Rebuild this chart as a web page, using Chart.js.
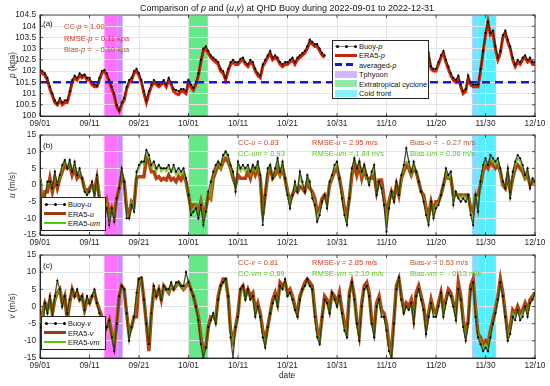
<!DOCTYPE html>
<html>
<head>
<meta charset="utf-8">
<script src="https://cdn.jsdelivr.net/npm/chart.js@4"></script>
<style>
body { margin: 0; background: #fff; width: 550px; height: 386px; position: relative; overflow: hidden;
       font-family: "Liberation Sans", Arial, sans-serif; }
canvas { position: absolute; left: 0; }
.t { position: absolute; white-space: pre; font-size: 7.5px; transform: translateY(-50%); z-index: 5; }
.ylab { position: absolute; white-space: nowrap; font-size: 8.3px; color: #262626;
        transform: translate(-50%, -50%) rotate(-90deg); z-index: 5; }
.leg { position: absolute; background: #fff; border: 0.8px solid #262626; z-index: 6; }
.leg div { position: absolute; }
.red { color: #e2341e; } .cc { color: #c8461e; } .bias { color: #b4552d; } .grn { color: #5ac81e; }
</style>
</head>
<body>
<canvas id="pa" width="550" height="132" style="top:0px"></canvas>
<canvas id="pb" width="550" height="131" style="top:120px"></canvas>
<canvas id="pc" width="550" height="134" style="top:240px"></canvas>

<div class="t" style="left:287px;top:8px;transform:translate(-50%,-50%);font-size:9px;color:#111">Comparison of <i>p</i> and (<i>u</i>,<i>v</i>) at QHD Buoy during 2022-09-01 to 2022-12-31</div>

<div class="ylab" style="left:12px;top:65px"><i>p</i> (kpa)</div>
<div class="ylab" style="left:12px;top:185px"><i>u</i> (m/s)</div>
<div class="ylab" style="left:12px;top:306px"><i>v</i> (m/s)</div>
<div class="t" style="left:287px;top:375px;transform:translate(-50%,-50%);font-size:8.3px;color:#262626">date</div>

<div class="t" style="left:43px;top:23px;font-size:8px;color:#111">(a)</div>
<div class="t cc" style="left:64px;top:26px">CC-<i>p</i> = 1.00</div>
<div class="t red" style="left:64px;top:37.5px">RMSE-<i>p</i> = 0.11 kpa</div>
<div class="t bias" style="left:64px;top:49px">Bias-<i>p</i> =  - 0.10 kpa</div>

<div class="t" style="left:43px;top:145px;font-size:8px;color:#111">(b)</div>
<div class="t cc" style="left:238px;top:141.5px">CC-<i>u</i> = 0.83</div>
<div class="t grn" style="left:238px;top:152.5px">CC-<i>um</i> = 0.93</div>
<div class="t red" style="left:312px;top:141.5px">RMSE-<i>u</i> = 2.95 m/s</div>
<div class="t grn" style="left:312px;top:152.5px">RMSE-<i>um</i> = 1.84 m/s</div>
<div class="t bias" style="left:410px;top:141.5px">Bias-<i>u</i> =  - 0.27 m/s</div>
<div class="t grn" style="left:410px;top:152.5px">Bias-<i>um</i> = 0.06 m/s</div>

<div class="t" style="left:43px;top:265px;font-size:8px;color:#111">(c)</div>
<div class="t cc" style="left:238px;top:261.5px">CC-<i>v</i> = 0.81</div>
<div class="t grn" style="left:238px;top:272.5px">CC-<i>vm</i> = 0.89</div>
<div class="t red" style="left:312px;top:261.5px">RMSE-<i>v</i> = 2.85 m/s</div>
<div class="t grn" style="left:312px;top:272.5px">RMSE-<i>vm</i> = 2.10 m/s</div>
<div class="t bias" style="left:410px;top:261.5px">Bias-<i>v</i> = 0.53 m/s</div>
<div class="t grn" style="left:410px;top:272.5px">Bias-<i>vm</i> =  - 0.13 m/s</div>

<div id="legA" class="leg" style="left:332px;top:40px;width:95px;height:57px"></div>
<div id="legB" class="leg" style="left:41px;top:197px;width:63px;height:32px"></div>
<div id="legC" class="leg" style="left:41px;top:316px;width:63px;height:32px"></div>

<script>
// x axis ticks (days since 2022-09-01)
const tickDays = [0, 10, 20, 30, 40, 50, 60, 70, 80, 90, 100];
const tickLabels = ["09/01", "09/11", "09/21", "10/01", "10/11", "10/21", "10/31", "11/10", "11/20", "11/30", "12/10"];

// event shading (day from, day to)
const bandStart = [13.0, 15.6, 30.0, 87.3, 88.5];
const bandEnd = [15.6, 16.7, 33.9, 88.5, 92.1];
const bandColor = ["#ff72ff", "#cc8cff", "#66e88a", "#88d8ff", "#55eeff"];

const avgP = 101.5;

// half-day samples, day 0 .. 100
const pBuoy = [
  102.1,102.0,101.9,101.7,101.3,101.0,100.7,100.55,100.8,100.6,
  100.7,100.7,101.1,101.6,101.8,101.7,101.9,101.8,101.85,101.7,
  101.7,101.5,101.4,101.35,101.7,102.0,102.05,101.9,101.6,101.3,
  101.0,100.5,100.25,100.6,100.8,101.3,101.6,101.7,102.0,102.1,
  101.9,101.6,101.1,100.7,101.1,101.4,101.6,101.5,101.4,101.5,
  101.6,101.4,101.7,101.5,101.2,101.15,101.1,101.2,101.2,101.1,
  101.6,101.4,101.25,101.5,101.9,102.5,103.0,103.1,102.9,102.7,
  102.6,102.5,102.4,102.1,102.0,101.7,102.1,102.4,102.5,102.4,
  102.4,102.55,102.6,102.4,102.3,102.5,102.4,102.1,101.9,101.8,
  102.3,102.5,102.7,102.9,102.6,102.7,102.6,102.4,102.3,102.4,
  102.4,102.5,102.6,102.4,102.6,102.7,102.8,102.9,103.1,103.4,
  103.3,103.2,103.2,103.0,102.8,102.7,
  null,null,null,null,null,null,null,null,null,null,
  null,null,null,null,null,null,null,null,null,null,
  null,null,null,null,null,null,null,null,null,null,
  null,null,null,null,null,null,null,null,null,null,
  102.5,102.8,102.2,102.1,102.1,102.4,102.7,102.9,102.5,102.2,
  101.9,101.7,101.6,101.8,101.4,101.1,101.2,101.8,101.5,101.4,
  101.4,101.4,102.1,102.9,103.7,104.2,103.7,103.8,103.1,102.6,
  102.9,103.6,103.8,103.4,103.1,102.6,102.3,102.5,102.4,102.6,
  102.7,102.5,102.6,102.4,102.4
];
const pEra5 = [
  102.0,101.9,101.8,101.6,101.2,100.9,100.6,100.5,100.7,100.5,
  100.6,100.6,101.0,101.5,101.7,101.6,101.8,101.7,101.8,101.6,
  101.6,101.4,101.3,101.3,101.6,101.9,102.0,101.8,101.5,101.2,
  100.9,100.4,100.2,100.5,100.7,101.2,101.5,101.6,101.9,102.0,
  101.8,101.5,101.0,100.6,101.0,101.3,101.5,101.4,101.3,101.4,
  101.5,101.3,101.6,101.4,101.1,101.0,100.95,101.1,101.1,101.0,
  101.5,101.3,101.15,101.4,101.8,102.4,102.9,103.0,102.8,102.6,
  102.5,102.4,102.3,102.0,101.9,101.6,102.0,102.3,102.4,102.3,
  102.3,102.45,102.5,102.3,102.2,102.4,102.3,102.0,101.8,101.7,
  102.2,102.4,102.6,102.8,102.5,102.6,102.5,102.3,102.2,102.3,
  102.3,102.4,102.5,102.3,102.5,102.6,102.7,102.8,103.0,103.3,
  103.2,103.1,103.1,102.9,102.7,102.6,
  null,null,null,null,null,null,null,null,null,null,
  null,null,null,null,null,null,null,null,null,null,
  null,null,null,null,null,null,null,null,null,null,
  null,null,null,null,null,null,null,null,null,null,
  102.4,102.7,102.1,102.0,102.0,102.3,102.6,102.8,102.4,102.1,
  101.8,101.6,101.5,101.7,101.3,101.0,101.1,101.7,101.4,101.3,
  101.3,101.3,102.0,102.8,103.6,104.2,103.6,103.7,103.0,102.5,
  102.8,103.5,103.7,103.3,103.0,102.5,102.2,102.4,102.3,102.5,
  102.6,102.4,102.5,102.3,102.3
];

const uBuoy = [
  1,-13,-4,1,1,-1,4,0,3,6,  7.5,5,7.5,4,7,3,5,2,-2,-3,
  -2,1,-4,3,-6,-11,-10,-7,-12,-7,  -11,-4,-1,5,1,-10,-10,-6,-8,4,
  6,7,7,10.5,9,6,7,5,6,5,  5,5,6,4,6,4,5,4,5,2,
  -3,-9,-8,-7,-10,-6,-12,-8,-2,1,  4,6,7,6,9,10,9,6,4,-2,
  7,5,6,5,6,4,6,5,7,3,  -12,-3,5,6,2,5,8,4,7,2,
  -3,-7,-3,1,-2,4,1,-2,3,1,  -4,-6,-11,-9,-5,-3,-7,1,3,6,
  7,2,-4,-9,-12,-4,5,8,5,7,  4,6,3,0,4,6,-3,1,-1,-6,
  -14,-7,-2,-5,1,-3,3,6,11,7,  4,7,4,1,-2,-5,-9,-12,-5,-10,
  -7,-6,-3,0,5,3,4,-6,-2,-4,  -5,-4,-5,-3,-9,-12,-3,-8,1,6,
  8,6,9,8,7,8,5,1,-1,5,  -4,4,7,9,8,6,3,5,-1,2,
  1
];
const uEra5 = [
  2,-8,-2,-2,2,-2,2,-1,2,4,  6,5,6,3,5,2,3,2,-1,-2,
  -1,0,-2,2,-4,-8,-8,-5,-9,-7,  -9,-4,-1,3,1,-7,-9,-5,-6,2,
  2.5,2.5,2.5,8,7,4,4,2,2.5,1.5,  2,1.5,3,1.5,2,1,2.5,1.5,3,1,
  -3,-7,-6,-6,-8,-5,-9,-7,-3,-4,  2,4,6,5,7,8,7,5,2,0,
  3,2,2,2,4,2,5,3,5,2,  -9,-3,3,5,2,3,5,3,5,2,
  -2,-5,-3,-1,-2,-0.5,-1,-2,1,-1,  -2,-4,-8,-7,-4,-3,-5,0,2,4,
  5,2,-2,-7,-9,-4,3,6,3,6,  2,5,2,2,2,3,-2,1.5,1.5,-4,
  -9,-5,-2,-4,0,-3,2,4,6,5,  3,5,4,1,-2,-3,-7,-9,-5,-8,
  -5,-5,-3,0,3,2,2,-3,-3,-3,  -3,-3,-3,-3,-7,-8,-3,-3,0,4,
  6,5,7,6,5,6,4,0,-1,3,  -2,2,5,6,5,4,2,3,0,1,
  1
];
const uEra5m = [
  2,-10,-3,0,1,-1,3,0,2,5,  7,5,7,4,6,3,4,2,-1,-3,
  -2,0,-3,2,-5,-10,-9,-6,-11,-7,  -10,-4,-1,4,1,-9,-10,-5,-7,3,
  5,7,6,10,8,5,6,4,6,4,  5,4,5,4,5,3,4,3,4,1,
  -3,-8,-7,-6,-9,-5,-11,-7,-2,-4,  3,5,7,5,8,10,8,5,3,-1,
  6,4,5,4,5,3,5,4,6,2,  -11,-3,4,6,2,4,7,3,6,2,
  -2,-6,-3,0,-2,3,0,-2,2,0,  -3,-5,-10,-8,-5,-3,-6,0,2,5,
  6,2,-3,-8,-11,-4,4,8,5,7,  3,5,2,0,3,5,-2,1,-1,-5,
  -11,-6,-2,-4,0,-3,2,5,7,6,  3,6,4,1,-2,-4,-8,-11,-5,-9,
  -6,-5,-3,0,4,2,3,-5,-2,-3,  -4,-3,-4,-3,-8,-10,-3,-7,0,5,
  7,6,8,7,6,7,4,0,-1,4,  -3,3,6,8,7,5,2,4,0,2,
  1
];

const vBuoy = [
  -6,-10,1,-2,3,-3,3,7.5,5,0,  3,-2,2,5,3,5,2,3,-1,3,
  1,3,5,1,-2,-5,-9,-6,-4,-9,  -13,-5,3,6,5,-2,-10,-6,-3,4,
  8,8.5,2,-5,-11,-2,6,3,5,2,  6,5,5,7,5,7,7,6,6,10,
  7,5,3,0,-4,-11,-15,-12,-6,-4,  -2,-5,2,6,7,8,3,-9,-15,-6,
  -3,5,6,2,5,2,3,-3,0,-3,  -9,-12,-6,-2,1,3,0,6,5,8,
  3,4,2,-1,-3,2,5,6,8,6,  5,-3,-9,-11,-3,2,1,-2,4,2,
  0,3,-2,-7,-9,3,7,2,-5,-10,  0,5,6,3,-5,-9,0,2,-3,-3,
  -7,-13,-15,-5,5,8.5,2,-2,0,-1,  1,-5,3,5,2,-1,-8,-3,1,-3,
  -3,0,4,-3,1,4,3,0,-4,5,  2,-6,-10,-5,5,7,-3,-9,-11,-13,
  -12,-13,-9,-5,-2,2,7,3,-3,-10,  -8,-3,-4,-1,-4,-3,0,-3,1,2,
  4
];
const vEra5 = [
  -4,-2,1,-1,2,-2,2,4,5,1,  3,-4,1,5,3,4,2,3,-1,2,
  1,3,4,1,-1,-3,-7,-6,-4,-8,  -11,-5,3,6,5,-2,-8,-6,-3,-3,
  8,8,2,-5,-13,-2,5,3,5,2,  6,5,4,6,5,6,7,6,5,6,
  7,5,3,0,-3,-9,-13,-12,-6,-3,  -3,-4,3,6,8,8,3,-7,-10,-6,
  -2,5,6,3,5,3,4,-1,1,-2,  -7,-10,-6,-2,2,4,1,7,6,7,
  4,5,3,0,-2,3,5,7,8,7,  6,-1,-7,-9,-3,3,2,-1,4,3,
  1,4,-1,-5,-7,4,7,3,-4,-8,  1,6,7,4,-4,-7,1,3,-1,-2,
  -5,-11,-13,-4,6,8,3,-1,1,0,  2,-3,4,6,3,0,-6,-2,2,-1,
  -2,1,4,-1,2,5,4,1,-2,7,  3,-4,-8,-4,6,8,-1,-8,-9,-11,
  -10,-11,-7,-4,-1,3,8,4,-2,-8,  -6,-1,-2,0,-2,-1,1,-1,2,3,
  4
];
const vEra5m = [
  -5,-3,1,-2,2,-3,2,4,5,0,  3,-2,1,5,3,4,2,3,-1,2,
  1,3,4,1,-2,-4,-8,-6,-4,-8,  -12,-5,3,5,5,-2,-9,-6,-3,3,
  7,8,2,-4,-10,-2,5,3,5,2,  6,5,4,6,5,6,7,6,5,6,
  7,5,3,0,-3,-10,-14,-12,-6,-4,  -2,-5,2,5,7,8,3,-8,-10,-6,
  -3,4,5,2,4,2,3,-2,0,-3,  -8,-11,-6,-2,1,3,0,6,5,7,
  3,4,2,-1,-3,2,4,6,7,6,  5,-2,-8,-10,-3,2,1,-2,3,2,
  0,3,-2,-6,-8,3,6,2,-5,-9,  0,5,6,3,-5,-8,0,2,-2,-3,
  -6,-12,-14,-5,5,8,2,-2,0,-1,  1,-4,3,5,2,-1,-7,-3,1,-2,
  -3,0,3,-2,1,4,3,0,-3,5,  2,-5,-9,-5,5,7,-2,-8,-10,-12,
  -11,-12,-8,-5,-2,2,7,3,-3,-9,  -7,-2,-3,-1,-3,-2,0,-2,1,2,
  4
];

const days = pEra5.map((v, i) => i / 2);
const pts = arr => arr.map((v, i) => ({ x: days[i], y: v }));

const tickFont = { family: "Liberation Sans, Arial, sans-serif", size: 8.3 };
const ink = "#262626";

const frame = {
  id: "frame",
  beforeDraw(chart) {
    const { ctx, chartArea: a, scales: { x } } = chart;
    ctx.save();
    bandStart.forEach((s, i) => {
      const x0 = x.getPixelForValue(s), x1 = x.getPixelForValue(bandEnd[i]);
      ctx.fillStyle = bandColor[i];
      ctx.fillRect(x0, a.top, x1 - x0, a.bottom - a.top);
    });
    ctx.restore();
  },
  afterDraw(chart) {
    const { ctx, chartArea: a, scales: { x, y } } = chart;
    ctx.save();
    ctx.strokeStyle = ink;
    ctx.lineWidth = 0.8;
    ctx.strokeRect(a.left, a.top, a.right - a.left, a.bottom - a.top);
    ctx.beginPath();
    x.ticks.forEach(t => {
      const px = x.getPixelForValue(t.value);
      ctx.moveTo(px, a.bottom); ctx.lineTo(px, a.bottom - 3);
      ctx.moveTo(px, a.top); ctx.lineTo(px, a.top + 3);
    });
    y.ticks.forEach(t => {
      const py = y.getPixelForValue(t.value);
      ctx.moveTo(a.left, py); ctx.lineTo(a.left + 3, py);
      ctx.moveTo(a.right, py); ctx.lineTo(a.right - 3, py);
    });
    ctx.stroke();
    ctx.restore();
  }
};

function makePanel(id, yMin, yMax, yStep, datasets) {
  return new Chart(document.getElementById(id), {
    type: "line",
    data: { datasets },
    options: {
      responsive: false,
      animation: false,
      devicePixelRatio: 1,
      layout: { padding: { top: 15, right: 15, left: 0, bottom: 0 } },
      plugins: { legend: { display: false }, tooltip: { enabled: false } },
      elements: { line: { tension: 0 } },
      scales: {
        x: {
          type: "linear", min: 0, max: 100,
          afterFit: s => { s.height = 16; },
          afterBuildTicks: s => { s.ticks = tickDays.map(v => ({ value: v })); },
          ticks: { callback: v => tickLabels[tickDays.indexOf(v)], font: tickFont, color: ink,
                   padding: 3, maxRotation: 0, autoSkip: false },
          grid: { color: "#e4e4e4", drawTicks: false },
          border: { color: ink }
        },
        y: {
          min: yMin, max: yMax,
          afterFit: s => { s.width = 40; },
          ticks: { stepSize: yStep, font: tickFont, color: ink, padding: 4, autoSkip: false,
                   callback: v => String(Math.round(v * 10) / 10) },
          grid: { color: "#e4e4e4", drawTicks: false },
          border: { color: ink }
        }
      }
    },
    plugins: [frame]
  });
}

function buoySet(label, arr) {
  return { label, data: pts(arr), borderColor: "rgba(40,45,25,0.85)", borderWidth: 1.3,
           pointRadius: 1.1, pointBackgroundColor: "#000", pointBorderWidth: 0, order: 1 };
}

makePanel("pa", 100, 104.5, 0.5, [
  { label: "averaged-p", data: [{ x: 0, y: avgP }, { x: 100, y: avgP }], borderColor: "#1a1acc",
    borderWidth: 2.5, borderDash: [8, 5], pointRadius: 0, order: 0 },
  buoySet("Buoy-p", pBuoy),
  { label: "ERA5-p", data: pts(pEra5), borderColor: "#e01e00", borderWidth: 3, pointRadius: 0, order: 2 }
]);

makePanel("pb", -15, 15, 5, [
  buoySet("Buoy-u", uBuoy),
  { label: "ERA5-um", data: pts(uEra5m), borderColor: "rgba(95,190,0,0.75)", borderWidth: 1.8, pointRadius: 0, order: 2 },
  { label: "ERA5-u", data: pts(uEra5), borderColor: "#b8400e", borderWidth: 3.5, pointRadius: 0, order: 3 }
]);

makePanel("pc", -15, 15, 5, [
  buoySet("Buoy-v", vBuoy),
  { label: "ERA5-vm", data: pts(vEra5m), borderColor: "rgba(95,190,0,0.75)", borderWidth: 1.8, pointRadius: 0, order: 2 },
  { label: "ERA5-v", data: pts(vEra5), borderColor: "#b8400e", borderWidth: 3.5, pointRadius: 0, order: 3 }
]);

// legends
function swatch(kind, color) {
  if (kind === "buoy")
    return `<div style="left:2px;top:-0.5px;width:22px;height:1px;background:#888"></div>` +
      [3, 12, 21].map(x => `<div style="left:${x}px;top:-1.5px;width:3px;height:3px;border-radius:50%;background:#000"></div>`).join("");
  if (kind === "thick") return `<div style="left:2px;top:-1.5px;width:22px;height:3px;background:${color}"></div>`;
  if (kind === "thin") return `<div style="left:2px;top:-1px;width:22px;height:1.6px;background:${color}"></div>`;
  if (kind === "dash") return `<div style="left:2px;top:-1.5px;width:22px;height:3px;background:repeating-linear-gradient(90deg,${color} 0 7px,transparent 7px 11px)"></div>`;
  return `<div style="left:2px;top:-3.5px;width:22px;height:7px;background:${color}"></div>`;
}
function buildLegend(id, rows, y0, dy) {
  document.getElementById(id).innerHTML = rows.map((r, i) =>
    `<div style="left:0;top:${y0 + i * dy}px;width:100%;height:0">${swatch(r[1], r[2])}` +
    `<div style="left:26px;top:0;transform:translateY(-50%);font-size:7.4px;color:#111;white-space:nowrap">${r[0]}</div></div>`
  ).join("");
}
buildLegend("legA", [
  ["Buoy-<i>p</i>", "buoy"], ["ERA5-<i>p</i>", "thick", "#c0280a"], ["averaged-<i>p</i>", "dash", "#1a1acc"],
  ["Tphyoon", "patch", "#d2b6ff"], ["Extratropical cyclone", "patch", "#92e8a6"], ["Cold front", "patch", "#86f2ff"]
], 5, 9.4);
buildLegend("legB", [
  ["Buoy-<i>u</i>", "buoy"], ["ERA5-<i>u</i>", "thick", "#9b3a10"], ["ERA5-<i>um</i>", "thin", "#55c800"]
], 6, 9.5);
buildLegend("legC", [
  ["Buoy-<i>v</i>", "buoy"], ["ERA5-<i>v</i>", "thick", "#9b3a10"], ["ERA5-<i>vm</i>", "thin", "#55c800"]
], 6, 9.5);
</script>
</body>
</html>
